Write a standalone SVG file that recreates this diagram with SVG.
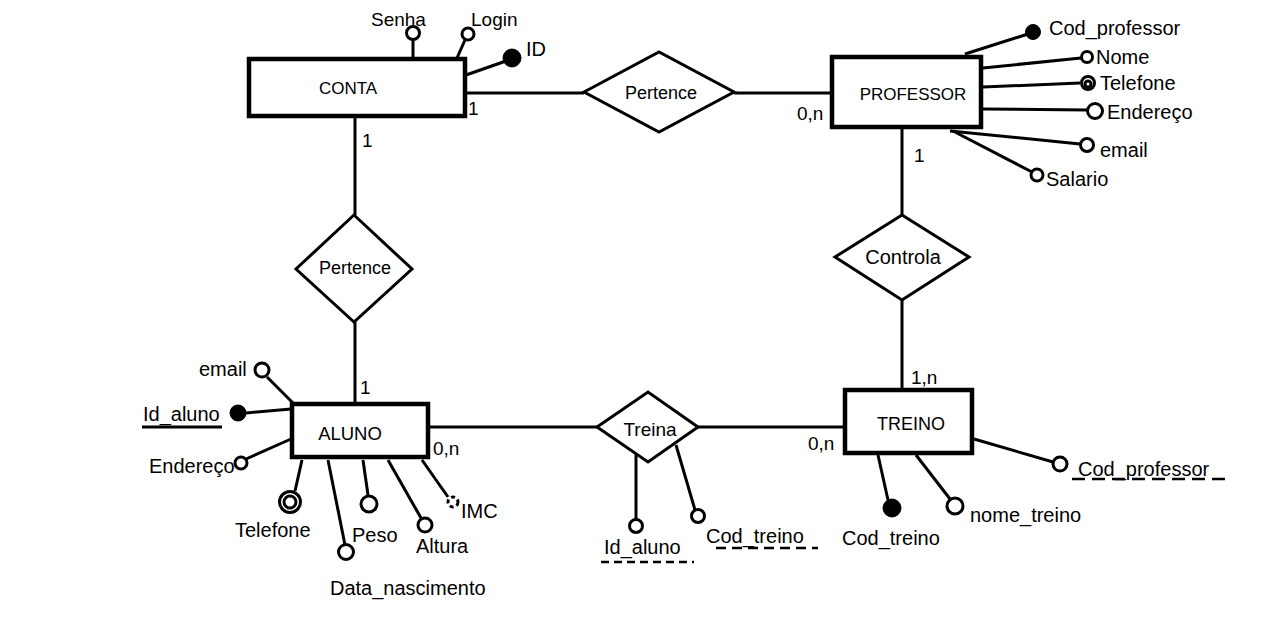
<svg xmlns="http://www.w3.org/2000/svg" width="1282" height="642" viewBox="0 0 1282 642">
<style>
text{font-family:"Liberation Sans",Arial,sans-serif;fill:#000}
.ent{fill:#fff;stroke:#000;stroke-width:4.5}
.rel{fill:#fff;stroke:#000;stroke-width:3}
.ln{stroke:#000;stroke-width:3;fill:none}
.att{fill:#fff;stroke:#000;stroke-width:3}
.key{fill:#000;stroke:#000;stroke-width:1}
.lbl{font-size:20px}
.en{font-size:17px;text-anchor:middle}
.rl{text-anchor:middle}
.cd{font-size:19px}
.dash{stroke:#000;stroke-width:2.5;fill:none}
</style>
<rect width="1282" height="642" fill="#fff"/>
<g id="connectors">
  <line class="ln" x1="467" y1="93" x2="584" y2="93"/>
  <line class="ln" x1="734" y1="93" x2="832" y2="93"/>
  <line class="ln" x1="355" y1="118" x2="355" y2="215"/>
  <line class="ln" x1="355" y1="322" x2="355" y2="402"/>
  <line class="ln" x1="902" y1="128" x2="902" y2="215"/>
  <line class="ln" x1="902" y1="300" x2="902" y2="388"/>
  <line class="ln" x1="430" y1="427" x2="597" y2="427"/>
  <line class="ln" x1="698" y1="427" x2="845" y2="427"/>
  <text class="cd" x="468" y="115">1</text>
  <text class="cd" x="797" y="120">0,n</text>
  <text class="cd" x="362" y="147">1</text>
  <text class="cd" x="360" y="394">1</text>
  <text class="cd" x="914" y="162">1</text>
  <text class="cd" x="911" y="384">1,n</text>
  <text class="cd" x="433" y="455">0,n</text>
  <text class="cd" x="808" y="450">0,n</text>
</g>
<g id="conta">
  <line class="ln" x1="413" y1="40" x2="413" y2="58"/>
  <circle class="att" cx="413" cy="33" r="6.5"/>
  <text class="lbl" x="371" y="26" style="font-size:19px">Senha</text>
  <line class="ln" x1="465" y1="40" x2="457" y2="58"/>
  <circle class="att" cx="468" cy="34" r="6"/>
  <text class="lbl" x="471" y="26" style="font-size:19px">Login</text>
  <line class="ln" x1="466" y1="75" x2="506" y2="61"/>
  <circle class="key" cx="512" cy="58" r="9"/>
  <text class="lbl" x="526" y="56">ID</text>
  <rect class="ent" x="249" y="59" width="216" height="57"/>
  <text class="en" x="348" y="94">CONTA</text>
</g>
<g id="pertence1">
  <polygon class="rel" points="584,92 659,52 734,92 659,132"/>
  <text class="rl" x="661" y="99" font-size="18">Pertence</text>
</g>
<g id="professor">
  <line class="ln" x1="965" y1="54" x2="1028" y2="34"/>
  <circle class="key" cx="1033" cy="32" r="7.5"/>
  <text class="lbl" x="1049" y="35">Cod_professor</text>
  <line class="ln" x1="983" y1="68" x2="1081" y2="58"/>
  <circle class="att" cx="1087" cy="57" r="5.5"/>
  <text class="lbl" x="1096" y="64">Nome</text>
  <line class="ln" x1="983" y1="87" x2="1080" y2="83"/>
  <circle class="att" cx="1088" cy="83" r="6.5" stroke-width="3.5"/>
  <circle class="att" cx="1088" cy="84" r="3" stroke-width="2"/>
  <text class="lbl" x="1100" y="90">Telefone</text>
  <line class="ln" x1="983" y1="109" x2="1087" y2="110"/>
  <circle class="att" cx="1095" cy="111" r="7.5"/>
  <text class="lbl" x="1107" y="119">Endereço</text>
  <line class="ln" x1="950" y1="131" x2="1080" y2="144"/>
  <circle class="att" cx="1087" cy="145" r="6.5"/>
  <text class="lbl" x="1100" y="157">email</text>
  <line class="ln" x1="953" y1="131" x2="1032" y2="172"/>
  <circle class="att" cx="1037" cy="175" r="6"/>
  <text class="lbl" x="1046" y="186">Salario</text>
  <rect class="ent" x="832" y="57" width="149" height="70"/>
  <text class="en" x="913" y="100">PROFESSOR</text>
</g>
<g id="pertence2">
  <polygon class="rel" points="354,215 412,269 354,322 296,269"/>
  <text class="rl" x="355" y="274" font-size="18">Pertence</text>
</g>
<g id="controla">
  <polygon class="rel" points="902,215 969,257 902,300 835,257"/>
  <text class="rl" x="903" y="264" font-size="20">Controla</text>
</g>
<g id="aluno">
  <line class="ln" x1="267" y1="377" x2="293" y2="403"/>
  <circle class="att" cx="262" cy="370" r="7"/>
  <text class="lbl" x="199" y="376">email</text>
  <line class="ln" x1="246" y1="413" x2="291" y2="409"/>
  <circle class="key" cx="238" cy="413" r="8"/>
  <text class="lbl" x="143" y="421">Id_aluno</text>
  <line class="ln" x1="142" y1="427" x2="222" y2="427" stroke-width="2.5"/>
  <line class="ln" x1="246" y1="459" x2="291" y2="439"/>
  <circle class="att" cx="241" cy="463" r="6"/>
  <text class="lbl" x="149" y="473">Endereço</text>
  <line class="ln" x1="302" y1="460" x2="295" y2="491"/>
  <circle class="att" cx="290" cy="502" r="10.5"/>
  <circle class="att" cx="290" cy="502" r="6"/>
  <text class="lbl" x="235" y="537">Telefone</text>
  <line class="ln" x1="328" y1="460" x2="345" y2="545"/>
  <circle class="att" cx="346" cy="552" r="7.5"/>
  <text class="lbl" x="330" y="595">Data_nascimento</text>
  <line class="ln" x1="363" y1="460" x2="368" y2="495"/>
  <circle class="att" cx="369" cy="504" r="8"/>
  <text class="lbl" x="352" y="542">Peso</text>
  <line class="ln" x1="388" y1="460" x2="421" y2="518"/>
  <circle class="att" cx="425" cy="525" r="7"/>
  <text class="lbl" x="416" y="553">Altura</text>
  <line class="ln" x1="422" y1="460" x2="448" y2="497"/>
  <circle class="att" cx="453" cy="502" r="5" stroke-dasharray="4 3"/>
  <text class="lbl" x="461" y="518">IMC</text>
  <rect class="ent" x="292" y="404" width="136" height="53"/>
  <text class="en" x="350" y="440" style="font-size:18.5px">ALUNO</text>
</g>
<g id="treina">
  <line class="ln" x1="636" y1="453" x2="636" y2="519"/>
  <circle class="att" cx="636" cy="526" r="6.5"/>
  <text class="lbl" x="604" y="554">Id_aluno</text>
  <line class="dash" x1="601" y1="562" x2="694" y2="562" stroke-dasharray="8 5"/>
  <line class="ln" x1="676" y1="445" x2="695" y2="510"/>
  <circle class="att" cx="698" cy="516" r="6.5"/>
  <text class="lbl" x="706" y="543">Cod_treino</text>
  <line class="dash" x1="716" y1="548" x2="818" y2="548" stroke-dasharray="10 6"/>
  <polygon class="rel" points="597,427 648,392 698,427 648,462"/>
  <text class="rl" x="650" y="436" font-size="19">Treina</text>
</g>
<g id="treino">
  <line class="ln" x1="974" y1="439" x2="1053" y2="462"/>
  <circle class="att" cx="1060" cy="464" r="7"/>
  <text class="lbl" x="1078" y="476">Cod_professor</text>
  <line class="dash" x1="1072" y1="479" x2="1225" y2="479" stroke-dasharray="13 7"/>
  <line class="ln" x1="878" y1="455" x2="888" y2="500"/>
  <circle class="key" cx="892" cy="508" r="9"/>
  <text class="lbl" x="842" y="545">Cod_treino</text>
  <line class="ln" x1="916" y1="455" x2="950" y2="499"/>
  <circle class="att" cx="955" cy="506" r="8"/>
  <text class="lbl" x="970" y="522">nome_treino</text>
  <rect class="ent" x="845" y="390" width="127" height="63"/>
  <text class="en" x="911" y="430" style="font-size:18px">TREINO</text>
</g>
</svg>
